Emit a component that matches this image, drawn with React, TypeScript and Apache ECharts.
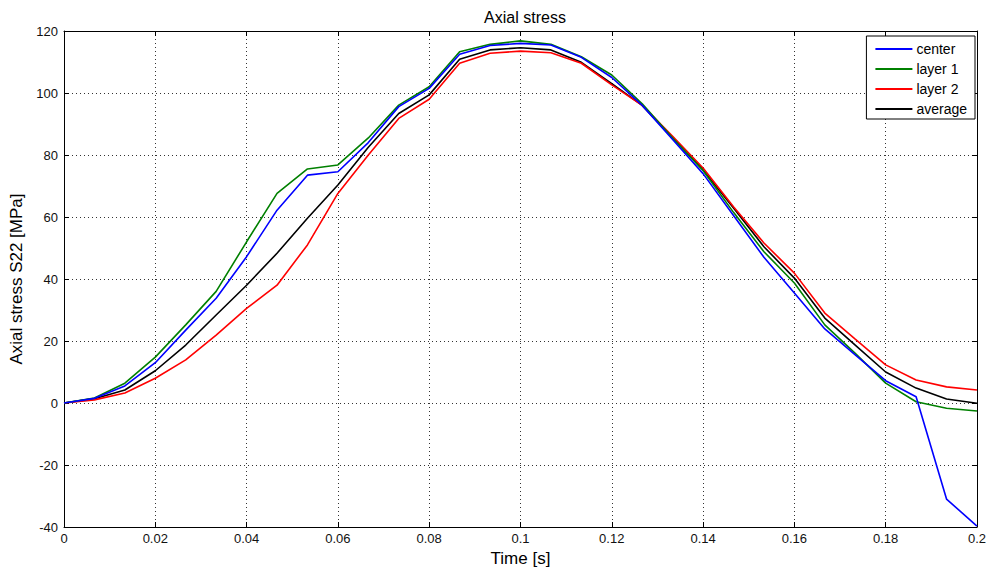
import React, { useEffect, useRef } from "react";
import * as echarts from "echarts";

const times = [0, 0.006667, 0.013333, 0.02, 0.026667, 0.033333, 0.04, 0.046667, 0.053333, 0.06, 0.066667, 0.073333, 0.08, 0.086667, 0.093333, 0.1, 0.106667, 0.113333, 0.12, 0.126667, 0.133333, 0.14, 0.146667, 0.153333, 0.16, 0.166667, 0.173333, 0.18, 0.186667, 0.193333, 0.2];

const center = [0, 1.5, 5.5, 13, 23.5, 33.8, 47.2, 62.2, 73.5, 74.6, 84, 95.6, 101.5, 112.5, 115.3, 116, 115.5, 111.5, 105, 96, 85, 74, 60.5, 47, 35.5, 23.9, 15.5, 7.2, 2, -31, -39.7];
const layer1 = [0, 1.6, 6.4, 14.8, 25.2, 36, 52, 67.6, 75.5, 76.8, 85.5, 96.1, 102, 113.3, 115.7, 116.8, 115.7, 111.7, 105.8, 96.5, 85.5, 75, 61.5, 48.8, 38.7, 25.2, 16, 6.4, 0.4, -1.7, -2.6];
const layer2 = [0, 1.0, 3.2, 8, 13.9, 21.9, 30.5, 38, 51, 67.6, 80, 91.8, 98, 109.6, 112.8, 113.5, 113, 109.6, 102.6, 96, 86, 75.8, 63.3, 51.6, 41.9, 29, 20.6, 12.3, 7.4, 5.2, 4.2];
const average = [0, 1.4, 4.2, 10.4, 18.7, 28.4, 38, 48.3, 59.6, 70.3, 82.5, 93.4, 99.4, 110.9, 113.9, 114.6, 113.9, 109.9, 103, 96, 85.5, 75.2, 62.9, 50.4, 40.3, 27.4, 18.7, 10, 4.8, 1.3, -0.1];

const seriesNames = ["center", "layer 1", "layer 2", "average"];
const seriesColors = ["#0000ff", "#008000", "#ff0000", "#000000"];
const seriesValues = [center, layer1, layer2, average];

const FONT = "'Liberation Sans', Arial, Helvetica, sans-serif";

export default function App() {
  const ref = useRef<HTMLDivElement>(null);
  useEffect(() => {
    if (!ref.current) return;
    const chart = echarts.init(ref.current, null, { renderer: "svg" });
    const hiddenAxis = {
      axisLabel: { show: false },
      splitLine: { show: false },
      axisLine: { show: true, onZero: false, lineStyle: { color: "#000", width: 1 } },
      axisTick: { show: true, inside: true, length: 5, lineStyle: { color: "#000" } },
    };
    chart.setOption({
      animation: false,
      backgroundColor: "#ffffff",
      title: {
        text: "Axial stress",
        left: 520,
        top: 4,
        textAlign: "center",
        textStyle: { fontFamily: FONT, fontSize: 16, fontWeight: "normal", color: "#000" },
      },
      grid: { left: 64, right: 12, top: 31, bottom: 47, containLabel: false },
      legend: {
        orient: "vertical",
        right: 14,
        top: 36,
        backgroundColor: "#fff",
        borderColor: "#000",
        borderWidth: 1,
        borderRadius: 0,
        padding: [6, 8, 3, 9],
        itemGap: 6,
        itemWidth: 37,
        itemHeight: 2,
        icon: "rect",
        textStyle: { fontFamily: FONT, fontSize: 14, color: "#000", padding: [0, 0, 0, -1] },
        data: seriesNames,
      },
      xAxis: [
        {
          type: "value",
          min: 0,
          max: 0.2,
          interval: 0.02,
          name: "Time [s]",
          nameLocation: "middle",
          nameGap: 23,
          nameTextStyle: { fontFamily: FONT, fontSize: 17, color: "#000" },
          axisLine: { show: true, onZero: false, lineStyle: { color: "#000", width: 1 } },
          axisTick: { show: true, inside: true, length: 5, lineStyle: { color: "#000" } },
          axisLabel: {
            fontFamily: FONT,
            fontSize: 13,
            color: "#111",
            margin: 5,
            formatter: (v: number) => String(+v.toFixed(2)),
          },
          splitLine: { show: true, lineStyle: { color: "#333", type: [1, 3], width: 1 } },
        },
        { type: "value", min: 0, max: 0.2, interval: 0.02, position: "top", ...hiddenAxis },
      ],
      yAxis: [
        {
          type: "value",
          min: -40,
          max: 120,
          interval: 20,
          name: "Axial stress S22 [MPa]",
          nameLocation: "middle",
          nameGap: 36,
          nameTextStyle: { fontFamily: FONT, fontSize: 17, color: "#000" },
          axisLine: { show: true, onZero: false, lineStyle: { color: "#000", width: 1 } },
          axisTick: { show: true, inside: true, length: 5, lineStyle: { color: "#000" } },
          axisLabel: { fontFamily: FONT, fontSize: 13, color: "#111", margin: 6 },
          splitLine: { show: true, lineStyle: { color: "#333", type: [1, 3], width: 1 } },
        },
        { type: "value", min: -40, max: 120, interval: 20, position: "right", ...hiddenAxis },
      ],
      series: seriesNames.map((name, i) => ({
        name,
        type: "line",
        data: times.map((t, j) => [t, seriesValues[i][j]]),
        showSymbol: false,
        symbol: "none",
        color: seriesColors[i],
        lineStyle: { color: seriesColors[i], width: 1.6 },
        z: 10 - i,
      })),
    });
    return () => chart.dispose();
  }, []);
  return (
    <div
      ref={ref}
      style={{ position: "fixed", left: 0, top: 0, width: 989, height: 574, background: "#fff" }}
    />
  );
}
